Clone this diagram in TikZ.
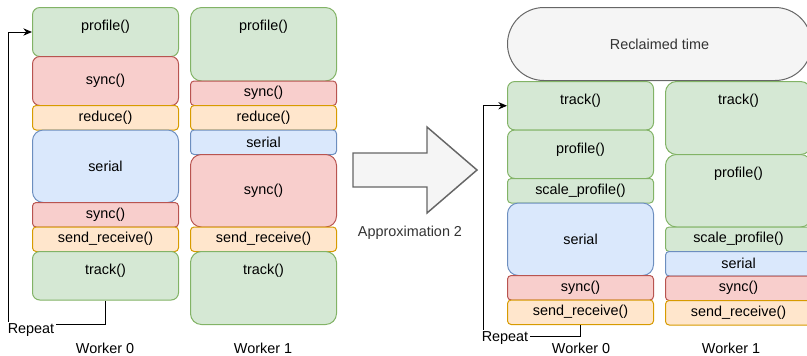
\documentclass[tikz,border=0pt]{standalone}
\usepackage{fontspec}
\setmainfont{Liberation Sans}
\usetikzlibrary{arrows.meta,positioning}

\definecolor{gfill}{HTML}{D5E8D4}
\definecolor{gline}{HTML}{82B366}
\definecolor{rfill}{HTML}{F8CECC}
\definecolor{rline}{HTML}{B85450}
\definecolor{ofill}{HTML}{FFE6CC}
\definecolor{oline}{HTML}{D79B00}
\definecolor{bfill}{HTML}{DAE8FC}
\definecolor{bline}{HTML}{6C8EBF}
\definecolor{nfill}{HTML}{F5F5F5}
\definecolor{nline}{HTML}{666666}
\definecolor{ntext}{HTML}{333333}

\tikzset{
  box/.style={draw, line width=0.75pt, anchor=north west, inner sep=0pt,
    minimum width=109.5pt, minimum height=#1*0.75pt, rounded corners=#1*0.1125pt},
  gbox/.style={box=#1, fill=gfill, draw=gline},
  rbox/.style={box=#1, fill=rfill, draw=rline},
  obox/.style={box=#1, fill=ofill, draw=oline},
  bbox/.style={box=#1, fill=bfill, draw=bline},
  toptext/.style={yshift=-15pt},
  rep/.style={line width=0.75pt, -{Stealth[length=6.5pt,width=5.5pt]}},
  replabel/.style={fill=white, inner sep=1pt},
}

\begin{document}
\begin{tikzpicture}[x=0.75pt, y=-0.75pt]
  \tikzstyle{every node}+=[font=\fontsize{10.8}{13}\selectfont]
  \useasboundingbox (0,0) rectangle (807,355);
  \clip (0,0) rectangle (807,355);

  % before: worker 0
  \node[gbox=49] (l0prof) at (32,7) {};
  \node[toptext] (l0proft) at (l0prof.north) {profile()};
  \node[rbox=49] (l0sync) at (32,56) {sync()};
  \node[obox=24.5] (l0red) at (32,105) {reduce()};
  \node[bbox=72.5] (l0ser) at (32,129.5) {serial};
  \node[rbox=24.5] (l0sync2) at (32,202) {sync()};
  \node[obox=24.5] (l0send) at (32,226.5) {send\_receive()};
  \node[gbox=48.5] (l0track) at (32,251) {};
  \node[toptext] (l0trackt) at (l0track.north) {track()};

  % before: worker 1
  \node[gbox=73.5] (l1prof) at (190,7) {};
  \node[toptext] (l1proft) at (l1prof.north) {profile()};
  \node[rbox=24.5] (l1sync) at (190,80.5) {sync()};
  \node[obox=24.5] (l1red) at (190,105) {reduce()};
  \node[bbox=24.5] (l1ser) at (190,129.5) {serial};
  \node[rbox=72.5] (l1sync2) at (190,154) {sync()};
  \node[obox=24.5] (l1send) at (190,226.5) {send\_receive()};
  \node[gbox=73] (l1track) at (190,251) {};
  \node[toptext] (l1trackt) at (l1track.north) {track()};

  \draw[rep] (l0track.south) |- (8,324) |- (l0prof.west);
  \node[replabel] (lrep) at (31,330) {Repeat};

  \node (lw0) at (105,348) {Worker 0};
  \node (lw1) at (263,348) {Worker 1};

  % big arrow
  \draw[fill=nfill, draw=nline, line width=1.1pt] (353,153) -- (427,153) -- (427,127)
    -- (477,170) -- (427,213) -- (427,187) -- (353,187) -- cycle;
  \node[text=ntext] (approx) at (410,233) {Approximation 2};

  % after
  \node[draw=nline, fill=nfill, line width=0.75pt, anchor=north west, inner sep=0pt,
    minimum width=228pt, minimum height=54.75pt, rounded corners=27.3pt, text=ntext]
    (recl) at (507,7) {Reclaimed time};

  % after: worker 0
  \node[gbox=48.5] (r0track) at (507,81) {};
  \node[toptext] (r0trackt) at (r0track.north) {track()};
  \node[gbox=48.5] (r0prof) at (507,129.5) {};
  \node[toptext] (r0proft) at (r0prof.north) {profile()};
  \node[gbox=24.5] (r0scale) at (507,178) {scale\_profile()};
  \node[bbox=72.5] (r0ser) at (507,202.5) {serial};
  \node[rbox=24.5] (r0sync) at (507,275) {sync()};
  \node[obox=24.5] (r0send) at (507,299.5) {send\_receive()};

  % after: worker 1
  \node[gbox=73] (r1track) at (665,81) {};
  \node[toptext] (r1trackt) at (r1track.north) {track()};
  \node[gbox=72.5] (r1prof) at (665,154) {};
  \node[toptext] (r1proft) at (r1prof.north) {profile()};
  \node[gbox=24.5] (r1scale) at (665,226.5) {scale\_profile()};
  \node[bbox=24.5] (r1ser) at (665,251) {serial};
  \node[rbox=24.5] (r1sync) at (665,275.5) {sync()};
  \node[obox=24.5] (r1send) at (665,300) {send\_receive()};

  \draw[rep] (r0send.south) |- (483,336) |- (r0track.west);
  \node[replabel] (rrep) at (505,338) {Repeat};

  \node (rw0) at (581,348) {Worker 0};
  \node (rw1) at (731,348) {Worker 1};
\end{tikzpicture}
\end{document}
